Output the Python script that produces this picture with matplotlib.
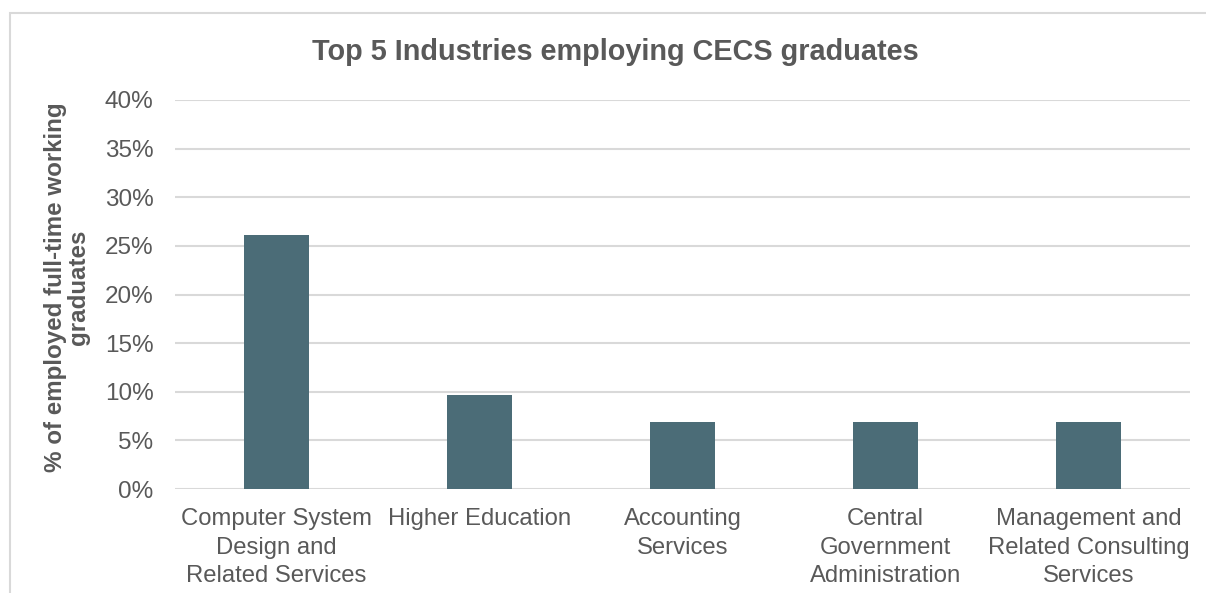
import matplotlib
matplotlib.use("Agg")
import matplotlib.pyplot as plt
from matplotlib.patches import Rectangle
from matplotlib.ticker import PercentFormatter

plt.rcParams['font.family'] = ['Liberation Sans', 'DejaVu Sans']

categories = ["Computer System\nDesign and\nRelated Services",
              "Higher Education",
              "Accounting\nServices",
              "Central\nGovernment\nAdministration",
              "Management and\nRelated Consulting\nServices"]
values = [0.261, 0.0965, 0.069, 0.069, 0.069]
yticks = [0, 0.05, 0.10, 0.15, 0.20, 0.25, 0.30, 0.35, 0.40]
title = "Top 5 Industries employing CECS graduates"
ylabel = "% of employed full-time working\ngraduates"

W, H = 1206, 593
fig = plt.figure(figsize=(W / 100, H / 100), dpi=100)
text_col = "#595959"

# chart frame
fig.patches.append(Rectangle((10 / W, -0.1), 1.2, 1 - 13 / H + 0.1,
                             transform=fig.transFigure, fill=False,
                             edgecolor="#D9D9D9", linewidth=1.5))

ax = fig.add_axes([175 / W, 1 - 489 / H, (1190 - 175) / W, (489 - 100) / H])
x = range(len(categories))
ax.bar(x, values, width=0.325, color="#4B6C77", zorder=3)
ax.set_xlim(-0.5, len(categories) - 0.5)
ax.set_ylim(0, 0.40)
ax.set_yticks(yticks)
ax.yaxis.set_major_formatter(PercentFormatter(1.0, decimals=0))
ax.set_xticks(list(x))
ax.set_xticklabels(categories, fontsize=17.2, color=text_col, linespacing=1.36)
ax.tick_params(axis='y', labelsize=17.5, labelcolor=text_col, length=0, pad=15.5)
ax.tick_params(axis='x', length=0, pad=14)
ax.grid(axis='y', color="#D9D9D9", linewidth=1.5, zorder=0)
for s in ax.spines.values():
    s.set_visible(False)

fig.text(615 / W, 1 - 52 / H, title, ha='center', va='center',
         fontsize=20.8, fontweight='bold', color=text_col)
fig.text(67 / W, 1 - 287 / H, ylabel, ha='center', va='center', rotation=90,
         fontsize=17.4, fontweight='bold', color=text_col, linespacing=1.0)

fig.savefig("out.png", dpi=100)
